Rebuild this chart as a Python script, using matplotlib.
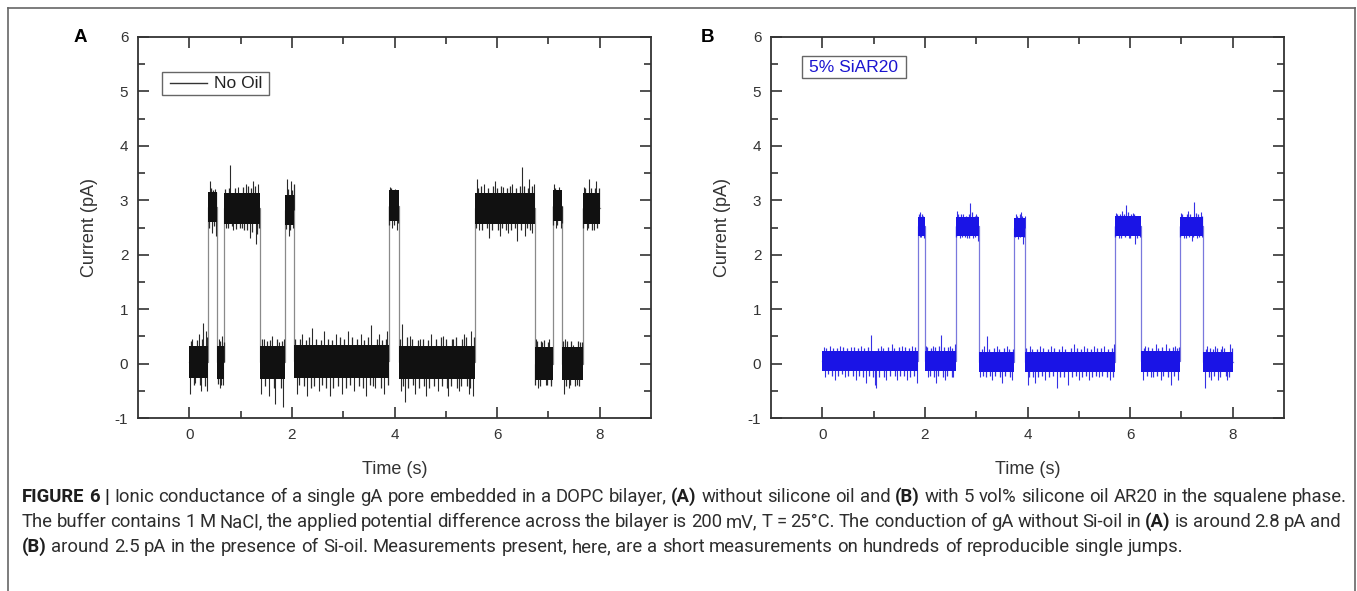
import numpy as np
import matplotlib
matplotlib.use("Agg")
import matplotlib.pyplot as plt
from matplotlib import font_manager
from matplotlib.lines import Line2D
from matplotlib.patches import Rectangle

# ---------------- data ----------------
# Panel A: no oil -- step segments (edges in s, level in pA)
a_edges = [0.0, 0.37, 0.54, 0.68, 1.37, 1.87, 2.05, 3.89, 4.08, 5.56, 6.73, 7.08, 7.27, 7.67, 8.0]
a_levels = [0.03, 2.88, 0.02, 2.85, 0.02, 2.82, 0.04, 2.9, 0.02, 2.85, 0.0, 2.9, 0.0, 2.85]
a_core = [0.3, 0.28]           # half-width of dense noise band (closed, open)
# large noise excursions (time, value)
a_spike_t = [0.02, 0.06, 0.12, 0.18, 0.22, 0.27, 0.32, 0.35,
             0.40, 0.45, 0.50, 0.52,
             0.57, 0.60, 0.64, 0.66,
             0.72, 0.80, 0.86, 0.95, 1.02, 1.10, 1.18, 1.25, 1.30, 1.34,
             1.40, 1.45, 1.55, 1.62, 1.68, 1.75, 1.83, 1.85,
             1.90, 1.94, 1.99, 2.03,
             2.10, 2.20, 2.30, 2.40, 2.52, 2.62, 2.75, 2.85, 2.98, 3.10, 3.22, 3.35, 3.45, 3.55, 3.62, 3.70, 3.80, 3.86,
             3.92, 3.96, 4.01, 4.05,
             4.12, 4.15, 4.20, 4.30, 4.40, 4.50, 4.62, 4.72, 4.85, 4.95, 5.05, 5.15, 5.25, 5.35, 5.45, 5.50, 5.53,
             5.60, 5.65, 5.75, 5.85, 5.95, 6.05, 6.12, 6.22, 6.30, 6.38, 6.49, 6.55, 6.62, 6.68, 6.71,
             6.76, 6.80, 6.88, 6.95, 7.02, 7.05,
             7.10, 7.14, 7.20, 7.25,
             7.30, 7.32, 7.40, 7.48, 7.55, 7.62,
             7.70, 7.75, 7.80, 7.88, 7.93, 7.98]
a_spike_v = [-0.55, 0.45, -0.35, 0.55, -0.5, 0.75, 0.6, -0.5,
             3.35, 2.4, 3.2, 2.35,
             0.45, -0.45, 0.5, -0.4,
             2.5, 3.65, 2.45, 3.25, 2.5, 3.3, 2.3, 3.35, 2.2, 3.3,
             -0.55, 0.45, -0.6, 0.5, -0.75, 0.4, -0.8, 0.45,
             3.4, 2.35, 3.35, 2.5,
             -0.55, 0.55, -0.6, 0.65, -0.5, 0.6, -0.6, 0.55, -0.55, 0.6, -0.5, 0.55, -0.6, 0.7, -0.45, 0.55, -0.55, 0.6,
             3.25, 2.5, 3.2, 2.45,
             -0.5, 0.72, -0.7, 0.5, -0.55, 0.45, -0.6, 0.55, -0.5, 0.5, -0.6, 0.45, -0.5, 0.55, -0.55, 0.6, -0.6,
             3.4, 2.45, 3.3, 2.3, 3.35, 2.35, 3.25, 2.4, 3.3, 2.25, 3.62, 2.35, 3.4, 2.4, 3.3,
             0.45, -0.45, 0.4, -0.4, 0.45, -0.35,
             3.3, 2.5, 3.25, 2.5,
             -0.55, 0.45, -0.45, 0.35, -0.4, 0.4,
             3.25, 2.45, 3.4, 2.45, 3.35, 2.6]
# smaller noise excursions (time, value)
a_small_t = [0.04, 0.09, 0.15, 0.20, 0.25, 0.30, 0.34,
             0.39, 0.42, 0.47, 0.49, 0.53,
             0.56, 0.59, 0.62, 0.67,
             0.70, 0.75, 0.78, 0.83, 0.89, 0.92, 0.98, 1.05, 1.07, 1.13, 1.15, 1.21, 1.23, 1.28, 1.32, 1.36,
             1.42, 1.48, 1.52, 1.58, 1.65, 1.71, 1.78, 1.80,
             1.89, 1.92, 1.97, 2.01, 2.04,
             2.07, 2.13, 2.16, 2.24, 2.27, 2.34, 2.37, 2.44, 2.47, 2.56, 2.58, 2.66, 2.70, 2.79, 2.81, 2.90, 2.93,
             3.02, 3.05, 3.14, 3.17, 3.27, 3.30, 3.39, 3.41, 3.49, 3.52, 3.58, 3.66, 3.73, 3.76, 3.83, 3.87,
             3.90, 3.94, 3.99, 4.03, 4.07,
             4.10, 4.17, 4.24, 4.27, 4.34, 4.36, 4.45, 4.47, 4.55, 4.57, 4.66, 4.68, 4.77, 4.80, 4.90, 4.92,
             5.00, 5.02, 5.10, 5.12, 5.20, 5.22, 5.30, 5.32, 5.40, 5.42, 5.48, 5.55,
             5.58, 5.62, 5.68, 5.70, 5.80, 5.82, 5.90, 5.92, 6.00, 6.02, 6.08, 6.10, 6.17, 6.19, 6.26, 6.28,
             6.34, 6.36, 6.44, 6.46, 6.52, 6.58, 6.60, 6.65, 6.69,
             6.74, 6.78, 6.84, 6.86, 6.92, 6.98, 7.00, 7.06,
             7.09, 7.12, 7.17, 7.22, 7.26,
             7.29, 7.35, 7.37, 7.43, 7.45, 7.52, 7.58, 7.60, 7.65,
             7.68, 7.72, 7.78, 7.83, 7.85, 7.90, 7.95, 7.99]
a_small_v = [0.42, -0.4, 0.44, -0.4, 0.46, -0.42, 0.48,
             2.5, 3.22, 3.18, 2.52, 3.15,
             -0.38, 0.42, -0.4, 0.4,
             3.2, 2.5, 3.22, 2.52, 3.22, 2.48, 2.5, 3.24, 2.45, 2.45, 3.26, 3.22, 2.42, 3.26, 2.38, 2.5,
             0.45, -0.42, 0.42, 0.44, -0.45, 0.46, -0.45, 0.42,
             2.48, 3.2, 2.45, 3.18, 3.3,
             0.45, -0.4, 0.46, -0.42, 0.44, 0.48, -0.45, -0.42, 0.46, 0.44, -0.4, -0.45, 0.46, 0.44, -0.45, -0.42, 0.48,
             0.46, -0.45, -0.4, 0.48, 0.46, -0.42, -0.45, 0.44, 0.48, -0.4, -0.42, 0.46, -0.45, 0.44, 0.46, -0.4,
             2.55, 3.22, 2.55, 3.18, 2.58,
             0.45, -0.42, 0.48, -0.45, 0.45, -0.4, 0.44, -0.45, 0.45, -0.42, 0.44, -0.45, -0.42, 0.45, 0.48, -0.42,
             0.45, -0.45, -0.42, 0.45, 0.48, -0.45, -0.42, 0.45, 0.48, -0.42, -0.45, 0.48,
             2.5, 3.22, 3.26, 2.45, 2.5, 3.22, 2.45, 3.26, 3.22, 2.45, 3.26, 2.5, 2.45, 3.22, 3.26, 2.45,
             2.5, 3.22, 3.26, 2.45, 3.26, 2.5, 3.22, 2.45, 3.26,
             -0.4, 0.42, -0.42, 0.42, 0.44, -0.4, 0.4, -0.42,
             2.55, 3.22, 2.55, 3.18, 2.58,
             0.42, -0.42, 0.42, -0.4, 0.42, -0.42, 0.42, -0.42, 0.4,
             2.5, 3.22, 2.5, 3.22, 2.45, 3.22, 2.5, 3.22]

# Panel B: 5% SiAR20
b_edges = [0.0, 1.87, 2.0, 2.60, 3.05, 3.74, 3.96, 5.70, 6.22, 6.97, 7.43, 8.0]
b_levels = [0.05, 2.52, 0.05, 2.52, 0.03, 2.5, 0.03, 2.53, 0.04, 2.52, 0.03]
b_core = [0.19, 0.18]
b_spike_t = [0.03, 0.05, 0.15, 0.25, 0.35, 0.45, 0.55, 0.65, 0.75, 0.85, 0.95, 1.02, 1.05, 1.15, 1.25, 1.35, 1.45, 1.55, 1.65, 1.75, 1.85,
             1.90, 1.93, 1.97, 1.99,
             2.03, 2.07, 2.15, 2.22, 2.32, 2.40, 2.48, 2.55, 2.58,
             2.63, 2.68, 2.75, 2.82, 2.88, 2.94, 3.00, 3.03,
             3.08, 3.15, 3.22, 3.30, 3.40, 3.50, 3.60, 3.70,
             3.77, 3.82, 3.88, 3.92, 3.95,
             4.00, 4.05, 4.15, 4.25, 4.35, 4.45, 4.58, 4.68, 4.78, 4.90, 5.00, 5.10, 5.20, 5.30, 5.40, 5.50, 5.60, 5.68,
             5.73, 5.78, 5.85, 5.92, 5.98, 6.05, 6.10, 6.18,
             6.25, 6.30, 6.40, 6.50, 6.60, 6.70, 6.80, 6.88, 6.94,
             7.00, 7.05, 7.12, 7.20, 7.25, 7.30, 7.38, 7.41,
             7.46, 7.50, 7.58, 7.65, 7.72, 7.80, 7.88, 7.95]
b_spike_v = [0.3, -0.25, 0.32, -0.3, 0.32, -0.25, 0.3, -0.3, 0.32, -0.35, 0.52, -0.4, -0.45, 0.32, -0.3, 0.36, -0.3, 0.32, -0.3, 0.32, -0.35,
             2.78, 2.32, 2.72, 2.3,
             0.32, -0.25, 0.32, -0.35, 0.52, -0.3, 0.32, -0.25, 0.36,
             2.8, 2.3, 2.75, 2.3, 2.95, 2.3, 2.75, 2.25,
             -0.25, 0.32, 0.5, -0.3, 0.32, -0.35, 0.32, -0.3,
             2.75, 2.28, 2.78, 2.2, 2.72,
             -0.4, 0.32, -0.35, 0.32, -0.3, 0.32, -0.45, 0.32, -0.4, 0.36, -0.3, 0.32, -0.3, 0.32, -0.25, 0.32, -0.3, 0.36,
             2.76, 2.3, 2.8, 2.92, 2.3, 2.76, 2.2, 2.72,
             -0.3, 0.32, -0.25, 0.36, -0.3, 0.36, -0.4, 0.32, -0.3,
             2.76, 2.3, 2.8, 2.25, 2.97, 2.3, 2.78, 2.33,
             -0.45, 0.32, -0.3, 0.32, -0.3, 0.32, -0.3, 0.36]
b_small_t = [0.08, 0.11, 0.19, 0.21, 0.29, 0.31, 0.39, 0.41, 0.49, 0.51, 0.59, 0.61, 0.69, 0.71, 0.79, 0.81, 0.89, 0.91,
             0.99, 1.09, 1.11, 1.19, 1.21, 1.29, 1.31, 1.39, 1.41, 1.49, 1.51, 1.59, 1.61, 1.69, 1.71, 1.79, 1.81,
             1.88, 1.91, 1.95, 1.98,
             2.05, 2.10, 2.12, 2.18, 2.20, 2.26, 2.28, 2.35, 2.38, 2.44, 2.46, 2.52, 2.53,
             2.61, 2.65, 2.70, 2.72, 2.78, 2.80, 2.85, 2.86, 2.91, 2.97, 2.98, 3.02,
             3.11, 3.13, 3.19, 3.25, 3.27, 3.34, 3.36, 3.44, 3.46, 3.54, 3.56, 3.64, 3.66, 3.72,
             3.75, 3.79, 3.85, 3.86, 3.90, 3.94,
             3.98, 4.02, 4.09, 4.11, 4.19, 4.21, 4.29, 4.31, 4.39, 4.41, 4.49, 4.51, 4.62, 4.64, 4.72, 4.74,
             4.84, 4.86, 4.94, 4.96, 5.04, 5.06, 5.14, 5.16, 5.24, 5.26, 5.34, 5.36, 5.44, 5.46, 5.54, 5.56, 5.64, 5.66,
             5.71, 5.75, 5.80, 5.82, 5.88, 5.90, 5.95, 6.00, 6.02, 6.08, 6.13, 6.15, 6.20,
             6.27, 6.33, 6.35, 6.43, 6.45, 6.53, 6.55, 6.63, 6.65, 6.73, 6.75, 6.83, 6.85, 6.91, 6.96,
             6.98, 7.02, 7.08, 7.10, 7.15, 7.17, 7.23, 7.28, 7.33, 7.35, 7.40,
             7.48, 7.53, 7.55, 7.61, 7.63, 7.69, 7.75, 7.77, 7.84, 7.86, 7.92, 7.98]
b_small_v = [0.28, -0.2, -0.22, 0.28, 0.28, -0.22, -0.2, 0.3, 0.28, -0.22, -0.22, 0.3, 0.28, -0.22, -0.24, 0.28, 0.3, -0.22,
             -0.25, 0.28, -0.25, 0.28, -0.24, 0.3, -0.22, 0.28, -0.22, 0.3, -0.22, -0.22, 0.3, 0.28, -0.24, -0.22, 0.3,
             2.74, 2.32, 2.75, 2.34,
             0.3, -0.22, 0.28, -0.24, 0.3, -0.22, 0.32, -0.24, 0.3, -0.22, 0.3, 0.28, -0.24,
             2.32, 2.74, 2.74, 2.32, 2.32, 2.72, 2.74, 2.3, 2.78, 2.72, 2.32, 2.72,
             0.27, -0.22, -0.24, 0.27, -0.22, 0.29, -0.22, 0.27, -0.24, 0.29, -0.22, 0.27, -0.24, 0.27,
             2.32, 2.72, 2.74, 2.32, 2.72, 2.32,
             0.29, -0.24, 0.27, -0.25, 0.27, -0.24, -0.22, 0.29, 0.27, -0.24, -0.22, 0.29, 0.27, -0.25, -0.24, 0.27,
             0.29, -0.24, -0.22, 0.29, 0.27, -0.24, -0.22, 0.29, 0.27, -0.24, -0.22, 0.29, 0.29, -0.22, -0.24, 0.27, 0.29, -0.24,
             2.33, 2.74, 2.75, 2.31, 2.75, 2.33, 2.78, 2.3, 2.75, 2.75, 2.3, 2.72, 2.33,
             0.28, -0.22, 0.3, 0.28, -0.24, -0.22, 0.28, 0.3, -0.22, -0.24, 0.28, 0.3, -0.22, 0.28, 0.3,
             2.33, 2.74, 2.31, 2.74, 2.33, 2.74, 2.33, 2.77, 2.74, 2.33, 2.72,
             0.27, -0.24, 0.29, 0.27, -0.22, 0.29, -0.24, 0.27, 0.29, -0.22, -0.24, 0.29]

x_ticks = [0, 2, 4, 6, 8]
y_ticks = [-1, 0, 1, 2, 3, 4, 5, 6]
panel_labels = ["A", "B"]
legend_texts = ["No Oil", "5% SiAR20"]
x_label = "Time (s)"
y_label = "Current (pA)"

caption_lines = [
    [("FIGURE 6 |", "bold"), ("Ionic conductance of a single gA pore embedded in a DOPC bilayer,", "normal"),
     ("(A)", "bold"), ("without silicone oil and", "normal"), ("(B)", "bold"),
     ("with 5 vol% silicone oil AR20 in the squalene phase.", "normal")],
    [("The buffer contains 1 M NaCl, the applied potential difference across the bilayer is 200 mV, T = 25\u00b0C. "
      "The conduction of gA without Si-oil in", "normal"), ("(A)", "bold"), ("is around 2.8 pA and", "normal")],
    [("(B)", "bold"), ("around 2.5 pA in the presence of Si-oil. Measurements present, here, are a short "
                       "measurements on hundreds of reproducible single jumps.", "normal")],
]

# ---------------- figure ----------------
W, H = 1357, 591
plt.rcParams['font.family'] = ['Liberation Sans', 'DejaVu Sans']
plt.rcParams['axes.unicode_minus'] = False
fig = plt.figure(figsize=(W / 100, H / 100), dpi=100)

names = {f.name for f in font_manager.fontManager.ttflist}
if 'Liberation Sans Narrow' in names:
    cap_family = 'Liberation Sans Narrow'
elif 'Roboto' in names:
    cap_family = 'Roboto'
else:
    cap_family = 'Liberation Sans'

spine_c = '#333333'


def draw_panel(ax, edges, levels, core, st, sv, st2, sv2, color, spike_color, step_color):
    edges = np.asarray(edges)
    levels = np.asarray(levels)
    xs, ys = [], []
    for i, lv in enumerate(levels):
        xs += [edges[i], edges[i + 1]]
        ys += [lv, lv]
    ax.plot(xs, ys, color=step_color, lw=0.9, zorder=2)
    for tt, vv, lw in ((st2, sv2, 0.9), (st, sv, 0.8)):
        tt = np.asarray(tt)
        idx = np.clip(np.searchsorted(edges, tt) - 1, 0, len(levels) - 1)
        ax.vlines(tt, levels[idx], np.asarray(vv), color=spike_color, lw=lw, zorder=2.5)
    for i, lv in enumerate(levels):
        k = 1 if lv > 1 else 0
        ax.fill_between([edges[i], edges[i + 1]], [lv - core[k]] * 2, [lv + core[k]] * 2,
                        color=color, lw=0, zorder=3.5)

    ax.set_xlim(-1, 9)
    ax.set_ylim(-1, 6)
    ax.set_xticks(x_ticks)
    ax.set_xticks([1, 3, 5, 7], minor=True)
    ax.set_yticks(y_ticks)
    ax.set_yticks(np.arange(-0.5, 6, 1.0), minor=True)
    ax.tick_params(which='both', direction='in', top=True, right=True, color=spine_c, width=1.2,
                   labelsize=11, labelcolor='#333333', pad=7)
    ax.tick_params(which='major', length=8)
    ax.tick_params(which='minor', length=5)
    for s in ax.spines.values():
        s.set_color(spine_c)
        s.set_linewidth(1.3)
    ax.set_xlabel(x_label, fontsize=13, color='#333333', labelpad=14)
    ax.set_ylabel(y_label, fontsize=13, color='#333333', labelpad=12)


axA = fig.add_axes([138 / W, 1 - 418 / H, 513 / W, 381 / H])
axB = fig.add_axes([771 / W, 1 - 418 / H, 513 / W, 381 / H])

draw_panel(axA, a_edges, a_levels, a_core, a_spike_t, a_spike_v, a_small_t, a_small_v,
           '#111111', '#2a2a2a', '#8a8a8a')
draw_panel(axB, b_edges, b_levels, b_core, b_spike_t, b_spike_v, b_small_t, b_small_v,
           '#1a14e6', '#3530e4', '#7a78dd')

# legend A
axA.add_patch(Rectangle((0.0468, 0.848), 0.2086, 0.060, transform=axA.transAxes, fill=False,
                        edgecolor='#666666', lw=1.0, zorder=5))
axA.add_line(Line2D([0.0624, 0.1345], [0.878, 0.878], transform=axA.transAxes, color='#333333', lw=1.0))
axA.text(0.148, 0.878, legend_texts[0], transform=axA.transAxes, fontsize=12.5, color='#222222',
         va='center', ha='left')
# legend B
axB.add_patch(Rectangle((0.0604, 0.892), 0.2026, 0.058, transform=axB.transAxes, fill=False,
                        edgecolor='#666666', lw=1.0, zorder=5))
axB.text(0.1617, 0.921, legend_texts[1], transform=axB.transAxes, fontsize=12.5, color='#1a14d0',
         va='center', ha='center')

# panel letters
fig.text(80 / W, 1 - 37 / H, panel_labels[0], fontsize=13.5, fontweight='bold', ha='center', va='center')
fig.text(708 / W, 1 - 37 / H, panel_labels[1], fontsize=13.5, fontweight='bold', ha='center', va='center')

# outer frame (open at bottom)
fc = '#666666'
fig.add_artist(Line2D([8 / W, 8 / W], [0, 1 - 8 / H], transform=fig.transFigure, color=fc, lw=1.2))
fig.add_artist(Line2D([8 / W, 1355 / W], [1 - 8 / H, 1 - 8 / H], transform=fig.transFigure, color=fc, lw=1.2))
fig.add_artist(Line2D([1355 / W, 1355 / W], [0, 1 - 8 / H], transform=fig.transFigure, color=fc, lw=1.2))

# ---------------- caption (word-by-word, justified) ----------------
fig.canvas.draw()
renderer = fig.canvas.get_renderer()


def wwidth(s, weight, size):
    t = fig.text(0, 0, s, fontsize=size, fontweight=weight, family=cap_family)
    w = t.get_window_extent(renderer).width
    t.remove()
    return w


def space_w(weight, size):
    return wwidth("x x", weight, size) - wwidth("xx", weight, size)


def words_of(line):
    out = []
    for s, wgt in line:
        for w in s.split(" "):
            if w:
                out.append((w, wgt))
    return out


def natural(line, size):
    ws = words_of(line)
    tot = sum(wwidth(w, g, size) for w, g in ws)
    sp = space_w('normal', size)
    return ws, tot, sp


base_size = 11.0
ws, tot, sp = natural(caption_lines[0], base_size)
nat0 = tot + sp * (len(ws) - 1)
cap_size = base_size * 1316.0 / nat0

cap_base = [502, 527, 552]     # text baselines (px from top)
cap_right = [1347, 1341, None]
x_left = 22.0
for line, yy, xr in zip(caption_lines, cap_base, cap_right):
    ws, tot, sp = natural(line, cap_size)
    gaps = len(ws) - 1
    if xr is not None and gaps > 0:
        gap = (xr - x_left - tot) / gaps
    else:
        gap = sp
    x = x_left
    for w, g in ws:
        fig.text(x / W, 1 - yy / H, w, fontsize=cap_size, fontweight=g, family=cap_family,
                 color='#2e2e2e' if g != 'bold' else '#1e1e1e', va='baseline', ha='left')
        x += wwidth(w, g, cap_size) + gap

fig.savefig("out.png", dpi=100)
